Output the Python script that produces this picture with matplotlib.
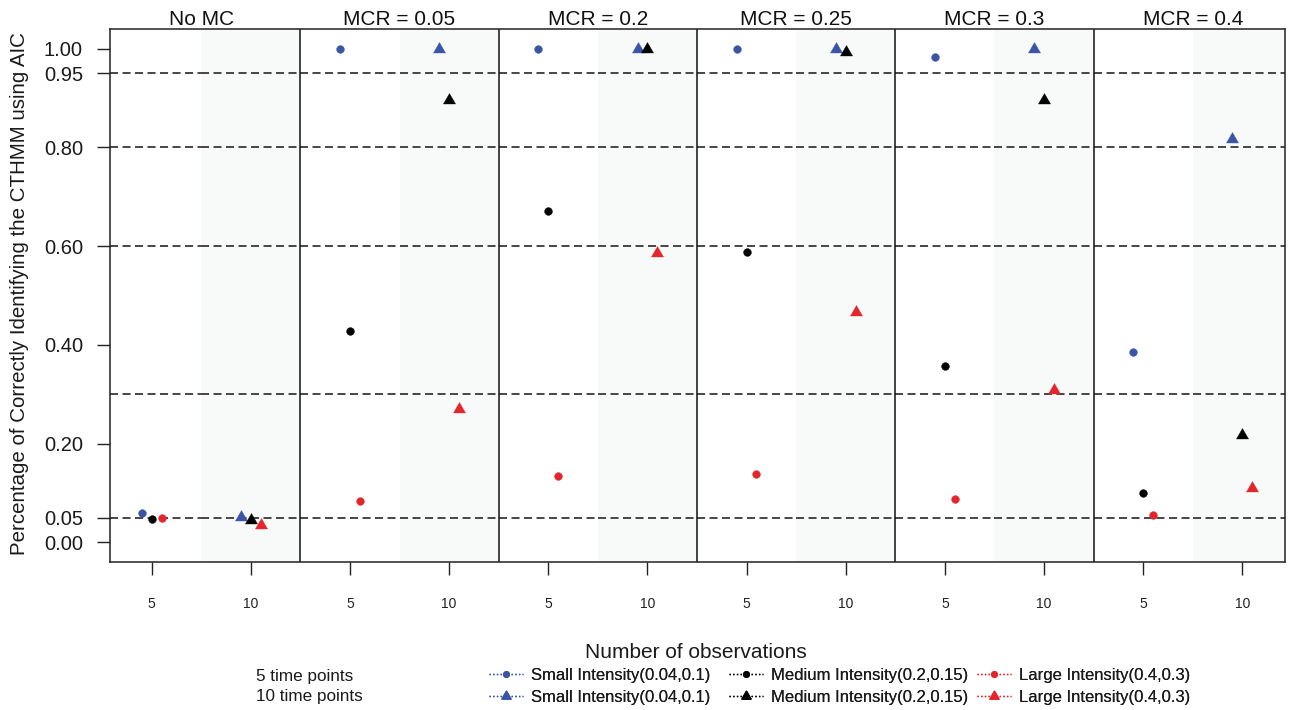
import numpy as np
import matplotlib
matplotlib.use("Agg")
import matplotlib.pyplot as plt
from matplotlib.lines import Line2D
from matplotlib.path import Path
from matplotlib.transforms import blended_transform_factory

plt.rcParams['font.family'] = ['Liberation Sans', 'DejaVu Sans']
plt.rcParams['lines.scale_dashes'] = False

# ---- data -------------------------------------------------------------
panels = ["No MC", "MCR = 0.05", "MCR = 0.2", "MCR = 0.25", "MCR = 0.3", "MCR = 0.4"]
obs_labels = ["5", "10"]
y_ticks = [0.00, 0.05, 0.20, 0.40, 0.60, 0.80, 0.95, 1.00]
ref_lines = [0.05, 0.30, 0.60, 0.80, 0.95]

small_5 = [0.060, 1.000, 1.000, 1.000, 0.983, 0.385]
medium_5 = [0.048, 0.429, 0.672, 0.588, 0.358, 0.099]
large_5 = [0.050, 0.084, 0.134, 0.138, 0.087, 0.055]

small_10 = [0.051, 1.000, 1.000, 1.000, 1.000, 0.818]
medium_10 = [0.046, 0.897, 1.000, 0.993, 0.897, 0.218]
large_10 = [0.034, 0.270, 0.586, 0.466, 0.308, 0.110]

intensity_labels = ["Small Intensity(0.04,0.1)",
                    "Medium Intensity(0.2,0.15)",
                    "Large Intensity(0.4,0.3)"]
time_labels = ["5 time points", "10 time points"]

# ---- styling ----------------------------------------------------------
colors = ["#3b55a6", "#000000", "#e3262b"]
offsets = [-0.1, 0.0, 0.1]
shade = "#f8faf9"
# equilateral triangle centred on its centroid
tri = Path([(0, 1.0), (-0.866, -0.5), (0.866, -0.5), (0, 1.0)],
           [Path.MOVETO, Path.LINETO, Path.LINETO, Path.CLOSEPOLY])

W, H = 1290, 710
fig = plt.figure(figsize=(W / 100, H / 100), dpi=100)
ax = fig.add_axes([110 / W, 1 - 562 / H, (1285 - 110) / W, (562 - 29) / H])

n = len(panels)
xlo, xhi = 0.58, 2 * n + 0.43
ax.set_xlim(xlo, xhi)
ax.set_ylim(-0.04, 1.04)

# shaded "10 observations" half of each panel
for i in range(n):
    ax.axvspan(1.5 + 2 * i, min(2.5 + 2 * i, xhi), color=shade, lw=0, zorder=0)

# dashed reference lines, drawn per half-panel
bounds = [xlo] + [1.5 + k for k in range(2 * n - 1)] + [xhi]
for yv in ref_lines:
    for a, b in zip(bounds[:-1], bounds[1:]):
        ax.plot([a, b], [yv, yv], color="#151515", lw=1.1,
                dashes=(5.8, 3.2), zorder=1)

# panel dividers
for i in range(1, n):
    ax.axvline(0.5 + 2 * i, color="#111111", lw=1.1, zorder=2)

base = np.arange(n) * 2 + 1
series5 = [small_5, medium_5, large_5]
series10 = [small_10, medium_10, large_10]
for k in range(3):
    ax.plot(base + offsets[k], series5[k], ls="none", marker="o", ms=5.6,
            mfc=colors[k], mec=colors[k], mew=0.3, zorder=3)
    ax.plot(base + 1 + offsets[k], series10[k], ls="none", marker=tri, ms=10,
            mfc=colors[k], mec=colors[k], mew=0.3, zorder=3)

# panel titles
tr = blended_transform_factory(ax.transData, ax.transAxes)
for i, name in enumerate(panels):
    ax.text(1.5 + 2 * i, 1.0075, name, transform=tr, ha="center",
            va="baseline", fontsize=15, color="#111111")

# axes
ax.set_xticks(np.arange(1, 2 * n + 1))
ax.set_xticklabels(obs_labels * n)
ax.set_yticks(y_ticks)
ax.set_yticklabels([f"{v:.2f}" for v in y_ticks])
ax.tick_params(axis="y", length=9.5, width=1.0, pad=10, labelsize=14.5,
               color="#222222", labelcolor="#1a1a1a")
ax.tick_params(axis="x", length=9.5, width=1.0, pad=16, labelsize=10,
               color="#222222", labelcolor="#222222")
for s in ax.spines.values():
    s.set_linewidth(1.1)
    s.set_color("#222222")

fig.text(20 / W, 1 - 294 / H,
         "Percentage of Correctly Identifying the CTHMM using AIC",
         rotation=90, ha="center", va="center", fontsize=14.8, color="#1a1a1a")
fig.text(696 / W, 1 - 653 / H, "Number of observations",
         ha="center", va="center", fontsize=15, color="#1a1a1a")

# legend: row titles, then one column of entries per intensity
row_y = [676, 697]
for r, lab in enumerate(time_labels):
    fig.text(256 / W, 1 - row_y[r] / H, lab, ha="left", va="center",
             fontsize=12.3, color="#1a1a1a")

col_left = [489, 729, 977]
for k in range(3):
    hs = [Line2D([], [], color=colors[k], ls=":", lw=1.0,
                 marker="o", ms=4, mfc=colors[k], mec=colors[k]),
          Line2D([], [], color=colors[k], ls=":", lw=1.0,
                 marker=tri, ms=7.5, mfc=colors[k], mec=colors[k])]
    leg = fig.legend(hs, [intensity_labels[k]] * 2, loc="center left",
                     bbox_to_anchor=(col_left[k] / W, 1 - sum(row_y) / 2 / H),
                     frameon=False, fontsize=12, handlelength=2.04,
                     handletextpad=0.48, labelspacing=0.42, borderpad=0,
                     borderaxespad=0, numpoints=1, labelcolor="#1a1a1a")
    fig.add_artist(leg)

fig.savefig("out.png", dpi=100, facecolor="white")
